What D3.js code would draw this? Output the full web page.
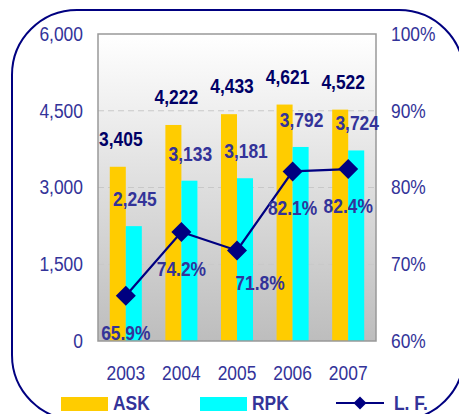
<!DOCTYPE html>
<html><head><meta charset="utf-8">
<script src="https://cdn.jsdelivr.net/npm/d3@7"></script>
<style>
html,body{margin:0;padding:0;background:#fff;}
svg{display:block;font-family:"Liberation Sans",Arial,sans-serif;}
</style></head>
<body>
<svg id="chart" width="459" height="414"></svg>
<script>
const years = ["2003","2004","2005","2006","2007"];
const ask = [3405, 4222, 4433, 4621, 4522];
const rpk = [2245, 3133, 3181, 3792, 3724];
const lf = [65.9, 74.2, 71.8, 82.1, 82.4];
const leftTicks = [0, 1500, 3000, 4500, 6000];
const rightTicks = [60, 70, 80, 90, 100];
const seriesNames = ["ASK", "RPK", "L. F."];

const svg = d3.select("#chart");
const m = {left: 98, top: 34, right: 376, bottom: 341};
const W = m.right - m.left, H = m.bottom - m.top;
const FS = 20;

// outer rounded frame
svg.append("rect").attr("x", 12).attr("y", 10).attr("width", 452).attr("height", 410)
  .attr("rx", 65).attr("ry", 65).attr("fill", "none").attr("stroke", "#000080").attr("stroke-width", 2);

const defs = svg.append("defs");
const grad = defs.append("linearGradient").attr("id", "bg").attr("x1", 0).attr("y1", 0).attr("x2", 0).attr("y2", 1);
grad.append("stop").attr("offset", "0%").attr("stop-color", "#ffffff");
grad.append("stop").attr("offset", "100%").attr("stop-color", "#bdbdbd");

const x = d3.scaleBand().domain(years).range([m.left, m.right]).paddingInner(0.424).paddingOuter(0.212);
const xs = d3.scaleBand().domain(["ASK", "RPK"]).range([0, x.bandwidth()]);
const y = d3.scaleLinear().domain([0, 6000]).range([m.bottom, m.top]);
const y2 = d3.scaleLinear().domain([60, 100]).range([m.bottom, m.top]);

svg.append("rect").attr("x", m.left).attr("y", m.top).attr("width", W).attr("height", H)
  .attr("fill", "url(#bg)");

// gridlines
svg.append("g").selectAll("line").data(leftTicks.filter(d => d > 0 && d < 6000)).join("line")
  .attr("x1", m.left).attr("x2", m.right).attr("y1", d => y(d)).attr("y2", d => y(d))
  .attr("stroke", "#c8c8c8").attr("stroke-dasharray", "6,4").attr("stroke-width", 1);

// bars
const g = svg.append("g");
years.forEach((yr, i) => {
  g.append("rect").attr("x", x(yr) + xs("ASK")).attr("y", y(ask[i]))
    .attr("width", xs.bandwidth()).attr("height", y(0) - y(ask[i])).attr("fill", "#FFCC00");
  g.append("rect").attr("x", x(yr) + xs("RPK")).attr("y", y(rpk[i]))
    .attr("width", xs.bandwidth()).attr("height", y(0) - y(rpk[i])).attr("fill", "#00FFFF");
});

// plot border
svg.append("rect").attr("x", m.left).attr("y", m.top).attr("width", W).attr("height", H)
  .attr("fill", "none").attr("stroke", "#999").attr("stroke-width", 1.5);

// axes
const axL = d3.axisLeft(y).tickValues(leftTicks).tickFormat(d3.format(",")).tickSize(0).tickPadding(15);
const gL = svg.append("g").attr("transform", `translate(${m.left},0)`).call(axL);
const axR = d3.axisRight(y2).tickValues(rightTicks).tickFormat(d => d + "%").tickSize(0).tickPadding(15);
const gR = svg.append("g").attr("transform", `translate(${m.right},0)`).call(axR);
const axB = d3.axisBottom(x).tickSize(0).tickPadding(25);
const gB = svg.append("g").attr("transform", `translate(0,${m.bottom})`).call(axB);
[gL, gR, gB].forEach(a => {
  a.select(".domain").remove();
  a.selectAll("text").attr("font-size", FS).attr("fill", "#333399")
    .attr("font-family", "Liberation Sans, Arial, sans-serif");
});

// line
const cx = yr => x(yr) + x.bandwidth() / 2;
const line = d3.line().x((d, i) => cx(years[i])).y(d => y2(d));
svg.append("path").datum(lf).attr("d", line).attr("fill", "none")
  .attr("stroke", "#000080").attr("stroke-width", 2.2);
const diamond = (s) => `M0,${-s}L${s},0L0,${s}L${-s},0Z`;
svg.append("g").selectAll("path").data(lf).join("path")
  .attr("transform", (d, i) => `translate(${cx(years[i])},${y2(d)})`)
  .attr("d", diamond(10)).attr("fill", "#000080");

// labels
const fmt = d3.format(",");
const lab = svg.append("g").attr("font-weight", "bold").attr("font-size", FS).attr("text-anchor", "middle");
years.forEach((yr, i) => {
  lab.append("text").attr("x", x(yr) + xs("ASK") + xs.bandwidth() / 2 + 3).attr("y", y(ask[i]) - 21)
    .attr("fill", "#000066").text(fmt(ask[i]));
  lab.append("text").attr("x", x(yr) + xs("RPK") + xs.bandwidth() / 2 + 1).attr("y", y(rpk[i]) - 20)
    .attr("fill", "#333399").text(fmt(rpk[i]));
  const dx = i === 2 ? 23 : 0;
  const dy = i === 2 ? 40 : 44;
  lab.append("text").attr("x", cx(yr) + dx).attr("y", y2(lf[i]) + dy)
    .attr("fill", "#333399").text(lf[i].toFixed(1) + "%");
});

// legend
const lg = svg.append("g").attr("font-weight", "bold").attr("font-size", FS).attr("fill", "#333399");
lg.append("rect").attr("x", 61).attr("y", 397).attr("width", 47).attr("height", 14).attr("fill", "#FFCC00");
lg.append("text").attr("x", 113).attr("y", 410).text(seriesNames[0]);
lg.append("rect").attr("x", 200).attr("y", 397).attr("width", 47).attr("height", 14).attr("fill", "#00FFFF");
lg.append("text").attr("x", 252).attr("y", 410).text(seriesNames[1]);
lg.append("line").attr("x1", 336).attr("x2", 384).attr("y1", 403).attr("y2", 403)
  .attr("stroke", "#000080").attr("stroke-width", 2.2);
lg.append("path").attr("transform", "translate(360,403)").attr("d", diamond(6.5)).attr("fill", "#000080");
lg.append("text").attr("x", 394).attr("y", 410).text(seriesNames[2]);

// condense all text horizontally (reference uses a narrow rendering)
svg.selectAll("text").each(function() {
  const len = this.getComputedTextLength();
  d3.select(this).attr("textLength", (len * 0.87).toFixed(1)).attr("lengthAdjust", "spacingAndGlyphs");
});
</script>
</body></html>
